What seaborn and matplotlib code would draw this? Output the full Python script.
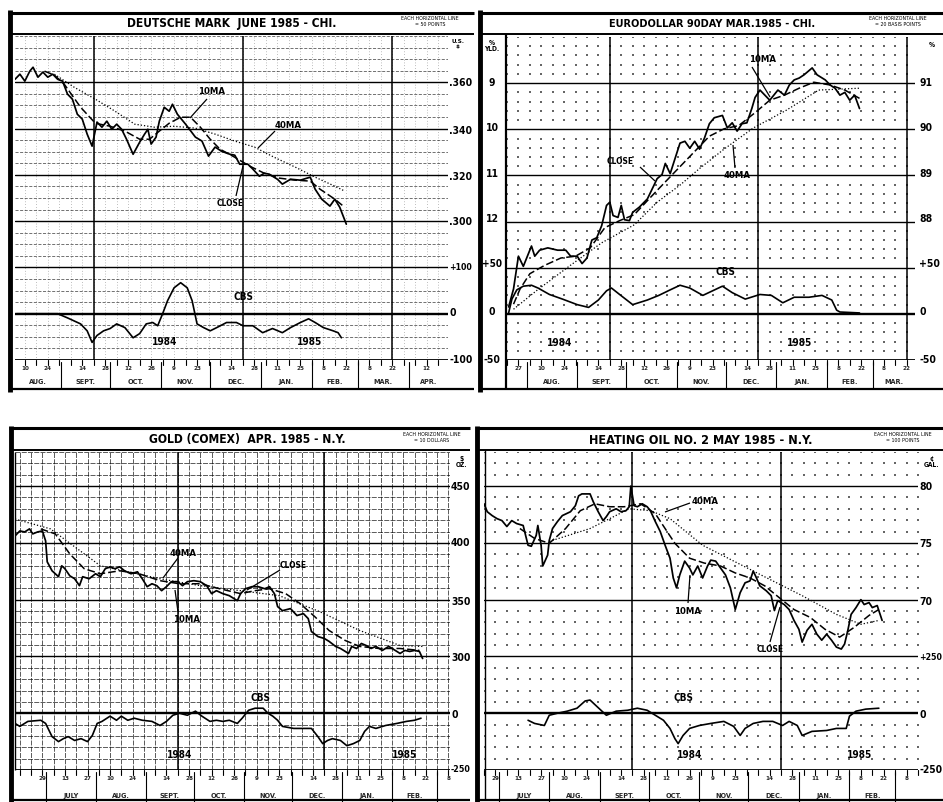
import numpy as np
import pandas as pd
import seaborn as sns
import matplotlib.pyplot as plt
import matplotlib.dates as mdates
from matplotlib import font_manager
from matplotlib.transforms import blended_transform_factory

sns.set_theme(style="white")
_cond = [f.name for f in font_manager.fontManager.ttflist
         if "Narrow" in f.name or "Condensed" in f.name or f.stretch in ("condensed", "semi-condensed")]
FAMILY = ([_cond[0]] if _cond else []) + ["DejaVu Sans"]
plt.rcParams["font.family"] = FAMILY

# ---------------- Deutsche mark (top left) ----------------
dm_close_dates = ["1984-08-04", "1984-08-07", "1984-08-10", "1984-08-13", "1984-08-15", "1984-08-18",
                  "1984-08-21", "1984-08-24", "1984-08-27", "1984-08-30", "1984-09-02", "1984-09-05",
                  "1984-09-08", "1984-09-11", "1984-09-14", "1984-09-17", "1984-09-20", "1984-09-23",
                  "1984-09-26", "1984-09-29", "1984-10-02", "1984-10-05", "1984-10-08", "1984-10-11",
                  "1984-10-15", "1984-10-19", "1984-10-22", "1984-10-24", "1984-10-26", "1984-10-29",
                  "1984-10-31", "1984-11-03", "1984-11-06", "1984-11-08", "1984-11-11", "1984-11-16",
                  "1984-11-22", "1984-11-26", "1984-11-30", "1984-12-04", "1984-12-08", "1984-12-13",
                  "1984-12-16", "1984-12-19", "1984-12-24", "1984-12-27", "1984-12-31", "1985-01-03",
                  "1985-01-06", "1985-01-11", "1985-01-14", "1985-01-19", "1985-01-25", "1985-01-31",
                  "1985-02-03", "1985-02-07", "1985-02-12", "1985-02-15", "1985-02-18", "1985-02-22"]
dm_close = [.3613, .3635, .3605, .3648, .3665, .3622, .3644, .3622, .3635, .3613, .3605, .3549,
            .3527, .3462, .3441, .3376, .3324, .3428, .3406, .3432, .3397, .3419, .3397, .3354,
            .3289, .3341, .3376, .3397, .3333, .3363, .3432, .3492, .3475, .3505, .3462, .3419,
            .3363, .3346, .3281, .3320, .3302, .3289, .3285, .3246, .3246, .3225, .3194, .3207,
            .3203, .3181, .3160, .3181, .3177, .3190, .3138, .3095, .3065, .3095, .3060, .2987]
dm_ma10_dates = ["1984-08-22", "1984-08-28", "1984-09-03", "1984-09-13", "1984-09-22", "1984-10-01",
                 "1984-10-10", "1984-10-19", "1984-10-25", "1984-10-31", "1984-11-06", "1984-11-13",
                 "1984-11-19", "1984-11-25", "1984-12-01", "1984-12-07", "1984-12-16", "1984-12-25",
                 "1985-01-03", "1985-01-12", "1985-01-22", "1985-01-31", "1985-02-06", "1985-02-15",
                 "1985-02-21"]
dm_ma10 = [.3648, .3631, .3592, .3492, .3423, .3410, .3389, .3354, .3354, .3389, .3423, .3449,
           .3449, .3406, .3354, .3311, .3276, .3238, .3207, .3186, .3177, .3173, .3138, .3095, .3060]
dm_ma40_dates = ["1984-08-28", "1984-09-09", "1984-09-22", "1984-10-04", "1984-10-16", "1984-10-28",
                 "1984-11-09", "1984-11-22", "1984-12-04", "1984-12-16", "1984-12-28", "1985-01-09",
                 "1985-01-22", "1985-02-03", "1985-02-15", "1985-02-21"]
dm_ma40 = [.3635, .3579, .3527, .3475, .3419, .3406, .3410, .3402, .3376, .3346, .3320, .3276,
           .3233, .3190, .3151, .3130]
dm_cbs_dates = ["1984-08-05", "1984-08-30", "1984-09-05", "1984-09-13", "1984-09-17", "1984-09-20",
                "1984-09-23", "1984-09-27", "1984-10-01", "1984-10-05", "1984-10-10", "1984-10-15",
                "1984-10-19", "1984-10-23", "1984-10-27", "1984-10-30", "1984-11-02", "1984-11-05",
                "1984-11-09", "1984-11-13", "1984-11-17", "1984-11-20", "1984-11-23", "1984-11-27",
                "1984-12-01", "1984-12-05", "1984-12-11", "1984-12-17", "1984-12-21", "1984-12-27",
                "1985-01-02", "1985-01-08", "1985-01-14", "1985-01-19", "1985-01-25", "1985-01-30",
                "1985-02-03", "1985-02-08", "1985-02-14", "1985-02-17", "1985-02-19"]
dm_cbs = [0, 0, -9, -22, -37, -62, -47, -37, -32, -22, -30, -52, -43, -22, -19, -26, 0, 28, 56, 67,
          56, 28, -22, -30, -37, -30, -19, -19, -26, -26, -41, -32, -41, -30, -19, -11, -19, -30,
          -37, -41, -52]

# ---------------- Eurodollar (top right) ----------------
ed_close_dates = ["1984-07-21", "1984-07-24", "1984-07-27", "1984-07-30", "1984-08-04", "1984-08-06",
                  "1984-08-09", "1984-08-14", "1984-08-20", "1984-08-25", "1984-08-28", "1984-09-01",
                  "1984-09-04", "1984-09-07", "1984-09-10", "1984-09-13", "1984-09-16", "1984-09-19",
                  "1984-09-21", "1984-09-23", "1984-09-26", "1984-09-28", "1984-09-30", "1984-10-03",
                  "1984-10-05", "1984-10-09", "1984-10-14", "1984-10-17", "1984-10-20", "1984-10-23",
                  "1984-10-25", "1984-10-28", "1984-10-31", "1984-11-03", "1984-11-06", "1984-11-09",
                  "1984-11-12", "1984-11-15", "1984-11-18", "1984-11-21", "1984-11-24", "1984-11-29",
                  "1984-12-02", "1984-12-05", "1984-12-08", "1984-12-11", "1984-12-14", "1984-12-17",
                  "1984-12-19", "1984-12-22", "1984-12-25", "1984-12-28", "1985-01-02", "1985-01-06",
                  "1985-01-09", "1985-01-12", "1985-01-15", "1985-01-18", "1985-01-23", "1985-01-26",
                  "1985-01-31", "1985-02-03", "1985-02-06", "1985-02-09", "1985-02-12", "1985-02-15",
                  "1985-02-18", "1985-02-21"]
ed_close = [86.15, 86.54, 87.25, 87.03, 87.47, 87.25, 87.38, 87.43, 87.38, 87.38, 87.25, 87.25,
            87.09, 87.21, 87.60, 87.65, 87.91, 88.35, 88.42, 88.13, 88.09, 88.35, 88.04, 88.02,
            88.20, 88.31, 88.49, 88.71, 88.93, 89.02, 89.26, 89.04, 89.37, 89.70, 89.74, 89.59,
            89.74, 89.57, 89.81, 90.12, 90.25, 90.30, 90.03, 90.14, 89.96, 90.12, 90.14, 90.45,
            90.69, 90.85, 90.74, 90.63, 90.85, 90.74, 90.96, 91.07, 91.11, 91.18, 91.33, 91.18,
            91.07, 90.96, 90.89, 90.74, 90.80, 90.63, 90.74, 90.45]
ed_ma10_dates = ["1984-07-24", "1984-07-28", "1984-08-03", "1984-08-12", "1984-08-22", "1984-08-31",
                 "1984-09-09", "1984-09-18", "1984-09-27", "1984-10-06", "1984-10-15", "1984-10-25",
                 "1984-11-03", "1984-11-12", "1984-11-21", "1984-11-30", "1984-12-09", "1984-12-19",
                 "1984-12-28", "1985-01-06", "1985-01-15", "1985-01-24", "1985-02-03", "1985-02-12",
                 "1985-02-21"]
ed_ma10 = [86.21, 86.54, 86.87, 87.05, 87.21, 87.25, 87.43, 87.87, 88.02, 88.15, 88.49, 88.86,
           89.19, 89.52, 89.85, 90.01, 90.08, 90.36, 90.63, 90.74, 90.89, 91.02, 90.96, 90.85, 90.67]
ed_ma40_dates = ["1984-07-24", "1984-08-07", "1984-08-27", "1984-09-16", "1984-10-06", "1984-10-20",
                 "1984-11-03", "1984-11-15", "1984-11-30", "1984-12-18", "1985-01-07", "1985-01-27",
                 "1985-02-21"]
ed_ma40 = [86.10, 86.50, 87.03, 87.54, 87.93, 88.42, 88.79, 89.15, 89.57, 90.03, 90.41, 90.85, 90.89]
ed_cbs_dates = ["1984-07-21", "1984-07-23", "1984-07-26", "1984-07-30", "1984-08-04", "1984-08-08",
                "1984-08-15", "1984-08-23", "1984-09-01", "1984-09-08", "1984-09-14", "1984-09-19",
                "1984-09-22", "1984-09-27", "1984-10-05", "1984-10-14", "1984-10-21", "1984-10-28",
                "1984-11-03", "1984-11-09", "1984-11-17", "1984-11-23", "1984-11-29", "1984-12-05",
                "1984-12-13", "1984-12-22", "1984-12-29", "1985-01-05", "1985-01-12", "1985-01-21",
                "1985-01-29", "1985-02-04", "1985-02-07", "1985-02-09", "1985-02-21"]
ed_cbs = [1, 16, 26, 30, 31, 28, 21, 16, 10, 7, 15, 25, 28, 21, 10, 15, 20, 26, 31, 28, 20, 25, 30,
          23, 16, 21, 20, 12, 18, 18, 20, 15, 4, 2, 1]

# ---------------- Gold (bottom left) ----------------
gc_close_dates = ["1984-06-12", "1984-06-15", "1984-06-18", "1984-06-21", "1984-06-23", "1984-06-26",
                  "1984-06-29", "1984-07-01", "1984-07-02", "1984-07-05", "1984-07-09", "1984-07-11",
                  "1984-07-13", "1984-07-16", "1984-07-19", "1984-07-22", "1984-07-24", "1984-07-28",
                  "1984-08-01", "1984-08-04", "1984-08-07", "1984-08-10", "1984-08-13", "1984-08-16",
                  "1984-08-19", "1984-08-23", "1984-08-27", "1984-08-30", "1984-09-02", "1984-09-05",
                  "1984-09-08", "1984-09-11", "1984-09-14", "1984-09-17", "1984-09-21", "1984-09-24",
                  "1984-09-27", "1984-10-01", "1984-10-05", "1984-10-09", "1984-10-12", "1984-10-15",
                  "1984-10-19", "1984-10-23", "1984-10-28", "1984-10-30", "1984-11-02", "1984-11-06",
                  "1984-11-10", "1984-11-14", "1984-11-17", "1984-11-20", "1984-11-22", "1984-11-25",
                  "1984-11-30", "1984-12-04", "1984-12-08", "1984-12-11", "1984-12-13", "1984-12-17",
                  "1984-12-21", "1984-12-24", "1984-12-28", "1984-12-31", "1985-01-03", "1985-01-05",
                  "1985-01-07", "1985-01-10", "1985-01-13", "1985-01-16", "1985-01-19", "1985-01-22",
                  "1985-01-26", "1985-01-30", "1985-02-03", "1985-02-06", "1985-02-09", "1985-02-12",
                  "1985-02-15", "1985-02-18", "1985-02-20"]
gc_close = [406.1, 410.5, 409.6, 412.3, 407.9, 409.6, 410.5, 401.7, 383.3, 375.4, 370.2, 379.8,
            377.2, 371.0, 368.4, 362.3, 370.2, 368.4, 372.8, 370.2, 377.2, 378.9, 377.2, 378.9,
            375.4, 372.8, 374.5, 368.4, 361.4, 364.0, 362.3, 357.9, 361.4, 365.8, 365.8, 362.3,
            365.8, 366.7, 365.8, 362.3, 355.3, 357.9, 355.3, 353.5, 349.1, 355.3, 359.6, 361.4,
            361.4, 359.6, 361.4, 355.3, 343.9, 340.3, 342.1, 336.0, 337.7, 333.3, 321.9, 317.5,
            315.8, 313.2, 308.8, 307.0, 304.4, 302.6, 308.8, 307.0, 311.4, 309.6, 307.0, 308.8,
            305.3, 308.8, 305.3, 302.6, 305.3, 304.4, 305.3, 304.4, 298.2]
gc_ma10_dates = ["1984-06-28", "1984-07-07", "1984-07-16", "1984-07-25", "1984-08-04", "1984-08-16",
                 "1984-08-28", "1984-09-10", "1984-09-22", "1984-10-05", "1984-10-17", "1984-10-30",
                 "1984-11-08", "1984-11-17", "1984-11-27", "1984-12-06", "1984-12-15", "1984-12-24",
                 "1985-01-03", "1985-01-12", "1985-01-24", "1985-02-06", "1985-02-18"]
gc_ma10 = [412.3, 407.9, 390.3, 377.2, 372.8, 375.4, 372.8, 366.7, 364.0, 364.0, 359.6, 355.3,
           357.9, 359.6, 355.3, 346.5, 335.1, 322.8, 314.0, 308.8, 307.0, 307.0, 305.3]
gc_ma40_dates = ["1984-06-12", "1984-07-04", "1984-08-04", "1984-09-10", "1984-10-05", "1984-10-30",
                 "1984-11-23", "1984-12-18", "1985-01-12", "1985-02-06", "1985-02-20"]
gc_ma40 = [421.0, 412.3, 379.8, 368.4, 362.3, 357.9, 353.5, 339.5, 322.8, 309.6, 308.8]
gc_cbs_dates = ["1984-06-12", "1984-06-15", "1984-06-20", "1984-06-28", "1984-07-01", "1984-07-05",
                "1984-07-09", "1984-07-12", "1984-07-15", "1984-07-19", "1984-07-23", "1984-07-27",
                "1984-07-30", "1984-08-02", "1984-08-05", "1984-08-10", "1984-08-14", "1984-08-17",
                "1984-08-21", "1984-08-25", "1984-08-30", "1984-09-05", "1984-09-10", "1984-09-14",
                "1984-09-18", "1984-09-22", "1984-09-27", "1984-10-02", "1984-10-06", "1984-10-11",
                "1984-10-15", "1984-10-19", "1984-10-23", "1984-10-28", "1984-10-31", "1984-11-04",
                "1984-11-08", "1984-11-13", "1984-11-16", "1984-11-19", "1984-11-22", "1984-11-25",
                "1984-12-02", "1984-12-08", "1984-12-13", "1984-12-17", "1984-12-20", "1984-12-23",
                "1984-12-26", "1984-12-31", "1985-01-04", "1985-01-08", "1985-01-12", "1985-01-15",
                "1985-01-18", "1985-01-22", "1985-01-28", "1985-02-04", "1985-02-10", "1985-02-15",
                "1985-02-19"]
gc_cbs = [-45, -58, -36, -31, -45, -103, -125, -112, -103, -120, -112, -125, -98, -45, -36, -13,
          -31, -13, -31, -22, -31, -36, -54, -36, -9, 0, -9, 9, -13, -36, -31, -36, -31, -45, -22,
          13, 22, 22, 0, -13, -31, -58, -67, -67, -67, -103, -134, -120, -112, -120, -143, -134,
          -120, -80, -58, -67, -54, -45, -36, -31, -22]

# ---------------- Heating oil (bottom right) ----------------
ho_close_dates = ["1984-06-22", "1984-06-24", "1984-06-27", "1984-06-30", "1984-07-03", "1984-07-06",
                  "1984-07-09", "1984-07-12", "1984-07-16", "1984-07-19", "1984-07-21", "1984-07-24",
                  "1984-07-25", "1984-07-27", "1984-07-28", "1984-07-31", "1984-08-01", "1984-08-03",
                  "1984-08-06", "1984-08-09", "1984-08-14", "1984-08-17", "1984-08-19", "1984-08-21",
                  "1984-08-26", "1984-08-28", "1984-08-31", "1984-09-03", "1984-09-05", "1984-09-07",
                  "1984-09-11", "1984-09-14", "1984-09-17", "1984-09-19", "1984-09-20", "1984-09-22",
                  "1984-09-24", "1984-09-27", "1984-09-30", "1984-10-02", "1984-10-05", "1984-10-08",
                  "1984-10-11", "1984-10-14", "1984-10-16", "1984-10-18", "1984-10-20", "1984-10-23",
                  "1984-10-26", "1984-10-28", "1984-10-31", "1984-11-03", "1984-11-06", "1984-11-08",
                  "1984-11-11", "1984-11-14", "1984-11-17", "1984-11-20", "1984-11-23", "1984-11-26",
                  "1984-11-29", "1984-12-02", "1984-12-04", "1984-12-06", "1984-12-08", "1984-12-12",
                  "1984-12-15", "1984-12-17", "1984-12-19", "1984-12-23", "1984-12-26", "1984-12-29",
                  "1985-01-01", "1985-01-03", "1985-01-06", "1985-01-09", "1985-01-12", "1985-01-15",
                  "1985-01-18", "1985-01-21", "1985-01-24", "1985-01-27", "1985-01-29", "1985-01-31",
                  "1985-02-02", "1985-02-05", "1985-02-08", "1985-02-10", "1985-02-13", "1985-02-15",
                  "1985-02-18", "1985-02-21"]
ho_close = [78.44, 77.74, 77.40, 77.13, 76.96, 76.44, 76.96, 76.70, 76.53, 74.79, 74.70, 75.66,
            76.53, 74.79, 72.96, 73.92, 75.22, 76.26, 76.87, 77.40, 77.74, 78.27, 79.14, 79.31,
            79.31, 78.61, 77.74, 76.96, 77.31, 77.74, 78.00, 77.74, 77.83, 78.18, 80.00, 78.27,
            78.18, 78.44, 78.18, 77.83, 76.87, 76.00, 74.79, 73.65, 71.91, 71.04, 72.18, 73.39,
            72.78, 72.18, 72.96, 71.91, 72.96, 73.48, 73.39, 72.78, 72.18, 71.04, 69.13, 70.61,
            71.48, 71.65, 72.52, 71.91, 71.22, 70.78, 70.35, 69.04, 69.91, 69.57, 69.13, 68.17,
            67.39, 66.26, 67.30, 67.83, 66.96, 66.43, 66.96, 66.43, 65.82, 65.65, 66.09, 67.30,
            68.70, 69.30, 70.00, 69.57, 69.74, 69.30, 69.48, 68.17]
ho_ma10_dates = ["1984-07-14", "1984-07-23", "1984-08-01", "1984-08-11", "1984-08-20", "1984-08-29",
                 "1984-09-07", "1984-09-16", "1984-09-26", "1984-10-05", "1984-10-11", "1984-10-17",
                 "1984-10-26", "1984-11-04", "1984-11-14", "1984-11-23", "1984-12-02", "1984-12-11",
                 "1984-12-20", "1984-12-29", "1985-01-08", "1985-01-17", "1985-01-26", "1985-02-04",
                 "1985-02-13", "1985-02-19"]
ho_ma10 = [76.26, 75.39, 74.96, 76.26, 77.83, 78.44, 78.18, 78.18, 78.44, 77.57, 76.26, 74.96,
           73.65, 73.22, 72.96, 72.35, 71.91, 71.22, 70.17, 69.13, 68.43, 67.39, 66.70, 67.57,
           68.61, 69.13]
ho_ma40_dates = ["1984-08-01", "1984-08-26", "1984-09-19", "1984-10-02", "1984-10-14", "1984-11-03",
                 "1984-12-04", "1985-01-03", "1985-01-24", "1985-02-08", "1985-02-19"]
ho_ma40 = [75.13, 76.26, 78.00, 77.83, 77.13, 74.79, 72.52, 70.35, 68.70, 67.83, 68.17]
ho_cbs_dates = ["1984-07-19", "1984-07-23", "1984-07-29", "1984-08-01", "1984-08-06", "1984-08-12",
                "1984-08-18", "1984-08-23", "1984-08-26", "1984-08-30", "1984-09-05", "1984-09-11",
                "1984-09-18", "1984-09-24", "1984-09-30", "1984-10-05", "1984-10-10", "1984-10-14",
                "1984-10-17", "1984-10-19", "1984-10-22", "1984-10-26", "1984-11-01", "1984-11-08",
                "1984-11-16", "1984-11-22", "1984-11-26", "1984-11-29", "1984-12-04", "1984-12-10",
                "1984-12-16", "1984-12-22", "1984-12-26", "1984-12-31", "1985-01-03", "1985-01-09",
                "1985-01-18", "1985-01-24", "1985-01-30", "1985-02-01", "1985-02-05", "1985-02-11",
                "1985-02-19"]
ho_cbs = [-31, -45, -54, -9, 0, 9, 22, 54, 58, 31, -9, 9, 13, 22, 13, -9, -31, -67, -112, -134,
          -98, -67, -54, -45, -36, -58, -98, -67, -45, -36, -36, -54, -36, -54, -98, -80, -76, -67,
          -67, -13, 9, 18, 22]

# date labels printed under each chart
tl_day_labels = ["1984-08-10", "1984-08-24", "1984-09-14", "1984-09-28", "1984-10-12", "1984-10-26",
                 "1984-11-09", "1984-11-23", "1984-12-14", "1984-12-28", "1985-01-11", "1985-01-25",
                 "1985-02-08", "1985-02-22", "1985-03-08", "1985-03-22", "1985-04-12"]
tr_day_labels = ["1984-07-27"] + tl_day_labels[:-1]
bot_day_labels = ["1984-06-29", "1984-07-13", "1984-07-27"] + tl_day_labels[:15]
month_names = {1: "JAN.", 2: "FEB.", 3: "MAR.", 4: "APR.", 7: "JULY", 8: "AUG.", 9: "SEPT.",
               10: "OCT.", 11: "NOV.", 12: "DEC."}
quarter_lines = ["1984-09-21", "1984-12-21", "1985-03-22"]

# ---------------- figure ----------------
W, H = 943, 802
fig = plt.figure(figsize=(W / 100, H / 100), dpi=100)
fig.patch.set_facecolor("white")
ov = fig.add_axes([0, 0, 1, 1], zorder=5)
ov.set_xlim(0, W)
ov.set_ylim(H, 0)
ov.set_autoscale_on(False)
ov.axis("off")
ov.patch.set_alpha(0)
renderer = fig.canvas.get_renderer()


def seg(x0, y0, x1, y1, lw=1.0):
    ov.plot([x0, x1], [y0, y1], color="black", lw=lw, solid_capstyle="butt")


def txt(x, y, s, size=7, ha="center", weight="bold", width=None, **kw):
    t = ov.text(x, y, s, fontsize=size, ha=ha, va="center", fontweight=weight,
                fontstretch="condensed", color="black", **kw)
    if width is not None:
        w = t.get_window_extent(renderer).width
        if w > width:
            t.set_fontsize(size * width / w)
    return t


def draw_panel(box, xlim, n_units, per_major, zero_unit, kind, series, conv_price, conv_cbs):
    l, t, r, b = box
    ax = fig.add_axes([l / W, 1 - b / H, (r - l) / W, (b - t) / H])
    d0, d1 = pd.to_datetime(xlim)
    weeks = mdates.date2num(pd.date_range(d0, d1, freq="W-FRI"))
    minors = [u for u in range(1, n_units + 1) if u % per_major or u == n_units]
    if kind == "dash":
        for u in minors:
            ax.axhline(u, color="black", lw=0.55, ls=(0, (4, 2)), alpha=0.7, zorder=1)
        for w in weeks:
            ax.axvline(w, color="black", lw=0.5, ls=(0, (1, 3)), alpha=0.5, zorder=1)
    elif kind == "paper":
        for u in minors:
            ax.axhline(u, color="black", lw=0.6, ls=(0, (6, 1.5)), alpha=0.75, zorder=1)
        for w in weeks:
            ax.axvline(w, color="black", lw=0.6, ls=(0, (6, 1.5)), alpha=0.75, zorder=1)
    else:
        gx, gy = np.meshgrid(weeks, minors)
        ax.scatter(gx.ravel(), gy.ravel(), s=0.8, color="black", alpha=0.6, marker="s",
                   linewidths=0, zorder=1)
    for u in range(per_major, n_units, per_major):
        ax.axhline(u, color="black", lw=1.7 if u == zero_unit else 1.0, zorder=2)
    ax.axhline(0, color="black", lw=1.3, zorder=2)
    for q in quarter_lines:
        qn = mdates.date2num(pd.Timestamp(q))
        if weeks[0] - 7 < qn < weeks[-1] + 7:
            ax.axvline(qn, color="black", lw=1.1, zorder=2)

    styles = {"close": dict(lw=1.25), "ma10": dict(lw=1.1, linestyle=(0, (5, 2))),
              "ma40": dict(lw=0.9, linestyle=(0, (1, 1.6))), "cbs": dict(lw=1.2)}
    for name, (dates, vals) in series.items():
        conv = conv_cbs if name == "cbs" else conv_price
        df = pd.DataFrame({"x": mdates.date2num(pd.to_datetime(dates)),
                           "y": conv(np.asarray(vals, dtype=float))})
        sns.lineplot(data=df, x="x", y="y", ax=ax, estimator=None, sort=False,
                     color="black", zorder=3, **styles[name])
    ax.set_xlim(mdates.date2num(d0), mdates.date2num(d1))
    ax.set_ylim(0, n_units)
    ax.axis("off")
    return ax


def draw_strip(ax, xlim, y_axis, y_num, y_mon, y_bot, day_labels):
    tr = blended_transform_factory(ax.transData, ov.transData)
    d0, d1 = pd.to_datetime(xlim)
    for w in mdates.date2num(pd.date_range(d0, d1, freq="W-FRI")):
        ov.plot([w, w], [y_axis, y_axis + 5], color="black", lw=0.8, transform=tr)
    for d in day_labels:
        ts = pd.Timestamp(d)
        ov.text(mdates.date2num(ts), y_num, str(ts.day), transform=tr, fontsize=4.5,
                fontweight="bold", fontstretch="condensed", ha="center", va="center")
    starts = list(pd.date_range(d0 - pd.offsets.MonthBegin(1), d1, freq="MS"))
    for i, ms in enumerate(starts):
        nxt = starts[i + 1] if i + 1 < len(starts) else d1
        a, z = max(ms, d0), min(nxt, d1)
        if ms > d0:
            x = mdates.date2num(ms)
            ov.plot([x, x], [y_axis + 2, y_bot], color="black", lw=0.8, transform=tr)
        if (z - a).days >= 15 and ms.month in month_names:
            mid = mdates.date2num(a) + (mdates.date2num(z) - mdates.date2num(a)) / 2
            ov.text(mid, y_mon, month_names[ms.month], transform=tr, fontsize=5.2,
                    fontweight="bold", fontstretch="condensed", ha="center", va="center")


# --- top left: Deutsche mark ---
tl_xlim = ("1984-08-04", "1985-04-25")
ax_tl = draw_panel((15, 36, 448, 360), tl_xlim, 28, 4, 4, "dash",
                   {"close": (dm_close_dates, dm_close), "ma10": (dm_ma10_dates, dm_ma10),
                    "ma40": (dm_ma40_dates, dm_ma40), "cbs": (dm_cbs_dates, dm_cbs)},
                   lambda p: 12 + (p - 0.300) / 0.005, lambda c: 4 + c / 25)
draw_strip(ax_tl, tl_xlim, 360, 369, 382, 389, tl_day_labels)

# --- top right: Eurodollar ---
tr_xlim = ("1984-07-20", "1985-03-27")
ax_tr = draw_panel((507, 37, 915, 360), tr_xlim, 35, 5, 5, "dots",
                   {"close": (ed_close_dates, ed_close), "ma10": (ed_ma10_dates, ed_ma10),
                    "ma40": (ed_ma40_dates, ed_ma40), "cbs": (ed_cbs_dates, ed_cbs)},
                   lambda p: 15 + (p - 88) / 0.2, lambda c: 5 + c / 10)
draw_strip(ax_tr, tr_xlim, 360, 369, 382, 389, tr_day_labels)

# --- bottom left: Gold ---
bl_xlim = ("1984-06-12", "1985-03-09")
ax_bl = draw_panel((15, 452, 450, 770), bl_xlim, 28, 5, 5, "paper",
                   {"close": (gc_close_dates, gc_close), "ma10": (gc_ma10_dates, gc_ma10),
                    "ma40": (gc_ma40_dates, gc_ma40), "cbs": (gc_cbs_dates, gc_cbs)},
                   lambda p: 10 + (p - 300) / 10, lambda c: 5 + c / 50)
draw_strip(ax_bl, bl_xlim, 770, 779, 796, 802, bot_day_labels)

# --- bottom right: Heating oil ---
br_xlim = ("1984-06-22", "1985-03-15")
ax_br = draw_panel((484, 452, 918, 770), br_xlim, 28, 5, 5, "dots",
                   {"close": (ho_close_dates, ho_close), "ma10": (ho_ma10_dates, ho_ma10),
                    "ma40": (ho_ma40_dates, ho_ma40), "cbs": (ho_cbs_dates, ho_cbs)},
                   lambda p: 15 + (p - 70) / 1.0, lambda c: 5 + c / 50)
draw_strip(ax_br, br_xlim, 770, 779, 796, 802, bot_day_labels)

# ---------------- frames ----------------
seg(9.5, 10, 9.5, 392, 3.5); seg(8, 13, 474, 13, 2.2); seg(9, 34, 474, 34, 1.4); seg(9, 389, 474, 389, 1.6)
seg(479.5, 10, 479.5, 392, 3.5); seg(478, 13, 943, 13, 2.2); seg(480, 34, 943, 34, 1.4)
seg(505.5, 34, 505.5, 390, 1.6); seg(480, 389, 943, 389, 1.6)
seg(10.5, 426, 10.5, 802, 3.5); seg(9, 428, 470, 428, 2.2); seg(10, 450, 470, 450, 1.4)
seg(10, 800, 470, 800, 1.6); seg(15, 452, 15, 770, 1.0)
seg(477, 426, 477, 802, 3.5); seg(484.5, 450, 484.5, 800, 1.0); seg(476, 428, 943, 428, 2.2)
seg(477, 450, 943, 450, 1.4); seg(477, 800, 943, 800, 1.6)

# ---------------- titles & notes ----------------
txt(232, 24, "DEUTSCHE MARK  JUNE 1985 - CHI.", 10.5, width=212)
txt(712, 24, "EURODOLLAR 90DAY MAR.1985 - CHI.", 10.5, width=208)
txt(247, 440, "GOLD (COMEX)  APR. 1985 - N.Y.", 10.5, width=198)
txt(701, 440, "HEATING OIL NO. 2 MAY 1985 - N.Y.", 10.5, width=226)
for x, y, unit in [(430, 19, "= 50 POINTS"), (898, 19, "= 20 BASIS POINTS"),
                   (432, 435, "= 10 DOLLARS"), (903, 435, "= 100 POINTS")]:
    txt(x, y, "EACH HORIZONTAL LINE", 3.8, weight="normal", width=66)
    txt(x, y + 6, unit, 3.8, weight="normal")

# ---------------- scale labels ----------------
txt(458, 44, "U.S.\n$", 4.5, linespacing=0.9)
for y, s in [(83, ".360"), (131, ".340"), (177, ".320"), (222, ".300"), (267, "+100"), (313, "0"), (360, "-100")]:
    txt(449, y, s, 7.5, ha="left", width=23)
txt(492, 46, "%\nYLD.", 4.8, linespacing=0.9)
for y, s in [(83, "9"), (128, "10"), (174, "11"), (219, "12"), (264, "+50"), (312, "0"), (360, "-50")]:
    txt(492, y, s, 7.5, width=20)
txt(932, 45, "%", 4.8)
for y, s in [(83, "91"), (128, "90"), (174, "89"), (219, "88"), (264, "+50"), (312, "0"), (360, "-50")]:
    txt(919, y, s, 7.5, ha="left", width=21)
txt(462, 462, "$\nOZ.", 4.8, linespacing=0.9)
for y, s in [(487, "450"), (543, "400"), (602, "350"), (658, "300"), (715, "0"), (770, "-250")]:
    txt(451, y, s, 7.5, ha="left", width=20)
txt(932, 462, "¢\nGAL.", 4.8, linespacing=0.9)
for y, s in [(487, "80"), (544, "75"), (602, "70"), (658, "+250"), (715, "0"), (770, "-250")]:
    txt(919, y, s, 7.5, ha="left", width=23)

# ---------------- annotations ----------------
notes = [(212, 92, "10MA"), (288, 125, "40MA"), (230, 204, "CLOSE"), (243, 297, "CBS"),
         (165, 342, "1984"), (310, 342, "1985"),
         (763, 60, "10MA"), (620, 162, "CLOSE"), (737, 176, "40MA"), (725, 272, "CBS"),
         (560, 343, "1984"), (800, 343, "1985"),
         (183, 553, "40MA"), (293, 565, "CLOSE"), (187, 620, "10MA"), (260, 698, "CBS"),
         (180, 755, "1984"), (405, 755, "1985"),
         (705, 502, "40MA"), (688, 612, "10MA"), (770, 650, "CLOSE"), (683, 698, "CBS"),
         (690, 755, "1984"), (860, 755, "1985")]
for x, y, s in notes:
    txt(x, y, s, 7.2, width=27)
for x0, y0, x1, y1 in [(207, 99, 190, 118), (275, 131, 258, 148), (236, 196, 243, 166),
                       (640, 167, 655, 181), (735, 168, 733, 145), (752, 67, 770, 97),
                       (178, 558, 163, 578), (280, 570, 247, 590), (178, 612, 175, 590),
                       (690, 503, 665, 512), (688, 603, 690, 575), (770, 642, 780, 607)]:
    seg(x0, y0, x1, y1, 0.9)

fig.savefig("out.png", dpi=100, facecolor="white")
